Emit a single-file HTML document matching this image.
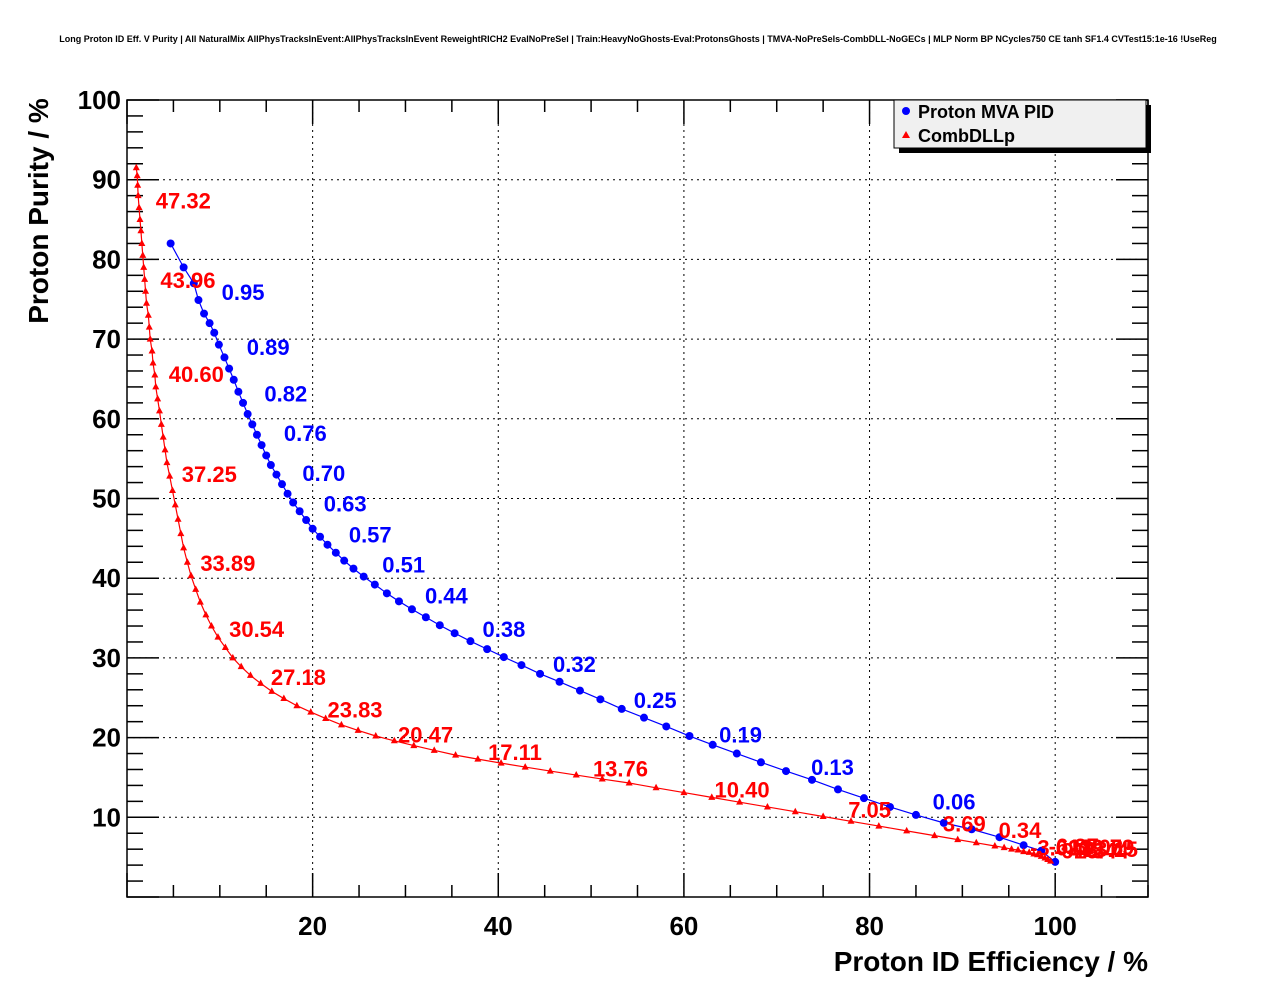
<!DOCTYPE html>
<html><head><meta charset="utf-8"><style>
body{margin:0;background:#fff;}
svg text{font-family:"Liberation Sans",sans-serif;font-weight:bold;}
</style></head><body>
<svg id="c" width="1276" height="996" xmlns="http://www.w3.org/2000/svg">
<text x="638" y="42" font-size="9" text-anchor="middle">Long Proton ID Eff. V Purity | All NaturalMix AllPhysTracksInEvent:AllPhysTracksInEvent ReweightRICH2 EvalNoPreSel | Train:HeavyNoGhosts-Eval:ProtonsGhosts | TMVA-NoPreSels-CombDLL-NoGECs | MLP Norm BP NCycles750 CE tanh SF1.4 CVTest15:1e-16 !UseReg</text>
<g id="grid"></g><g id="axes"></g><g id="series"></g>
<text x="1148" y="971" font-size="28" text-anchor="end">Proton ID Efficiency / %</text>
<text transform="translate(48,211) rotate(-90)" font-size="28" text-anchor="middle">Proton Purity / %</text>
<g>
<rect x="899" y="105" width="252" height="48" fill="#000"/>
<rect x="894" y="100" width="252" height="48" fill="#f0f0f0" stroke="#000" stroke-width="1"/>
<circle cx="906" cy="111" r="4" fill="#0000ff"/>
<text x="918" y="118" font-size="18">Proton MVA PID</text>
<polygon points="906,131 910,138 902,138" fill="#ff0000"/>
<text x="918" y="142" font-size="18">CombDLLp</text>
</g>
</svg>
<script>
const xTicks=[20,40,60,80,100];
const yTicks=[10,20,30,40,50,60,70,80,90,100];
const mvaX=[4.7,6.1,7.2,7.7,8.3,8.9,9.4,9.9,10.5,11.0,11.5,12.0,12.5,13.0,13.5,14.0,14.5,15.0,15.5,16.1,16.7,17.3,17.9,18.6,19.3,20.0,20.8,21.6,22.5,23.4,24.4,25.5,26.7,28.0,29.3,30.7,32.2,33.7,35.3,37.0,38.8,40.6,42.5,44.5,46.6,48.8,51.0,53.3,55.7,58.1,60.6,63.1,65.7,68.3,71.0,73.8,76.6,79.4,82.2,85.0,88.0,91.0,94.0,96.6,98.5,100.0];
const mvaY=[82.0,79.0,77.0,74.9,73.2,72.0,70.8,69.3,67.7,66.3,64.9,63.4,62.0,60.6,59.3,58.0,56.7,55.4,54.2,53.0,51.8,50.6,49.5,48.4,47.3,46.2,45.2,44.2,43.2,42.2,41.2,40.2,39.2,38.1,37.1,36.1,35.1,34.1,33.1,32.1,31.1,30.1,29.1,28.0,27.0,25.9,24.8,23.6,22.5,21.4,20.2,19.1,18.0,16.9,15.8,14.7,13.5,12.4,11.3,10.3,9.3,8.5,7.5,6.5,5.8,4.4];
const dllX=[1.0,1.1,1.15,1.2,1.3,1.4,1.5,1.6,1.7,1.8,1.9,2.0,2.1,2.3,2.4,2.5,2.7,2.8,3.0,3.1,3.3,3.5,3.7,3.9,4.1,4.3,4.6,4.9,5.2,5.5,5.8,6.1,6.5,6.9,7.4,7.9,8.5,9.1,9.8,10.6,11.4,12.3,13.3,14.4,15.6,16.9,18.3,19.8,21.4,23.1,24.9,26.8,28.8,30.9,33.1,35.4,37.8,40.3,42.9,45.6,48.4,51.2,54.1,57.0,60.0,63.0,66.0,69.0,72.0,75.0,78.0,81.0,84.0,87.0,89.5,91.5,93.5,94.5,95.3,96.0,96.6,97.2,97.7,98.1,98.5,98.9,99.2,99.5];
const dllY=[91.5,90.5,89.3,88.0,86.5,85.0,83.6,82.0,80.5,79.0,77.5,76.0,74.5,73.0,71.5,70.0,68.5,67.0,65.5,64.0,62.5,61.0,59.3,57.7,56.1,54.5,52.8,51.0,49.2,47.4,45.6,43.8,42.0,40.3,38.6,37.0,35.4,34.0,32.6,31.3,30.0,28.9,27.8,26.8,25.8,24.9,24.0,23.2,22.4,21.6,20.9,20.2,19.6,19.0,18.4,17.8,17.3,16.8,16.3,15.8,15.3,14.8,14.3,13.7,13.1,12.5,11.9,11.3,10.7,10.1,9.5,8.9,8.3,7.7,7.2,6.8,6.4,6.2,6.0,5.9,5.7,5.6,5.4,5.3,5.1,4.9,4.7,4.5];
const mvaLabels=["0.95","0.89","0.82","0.76","0.70","0.63","0.57","0.51","0.44","0.38","0.32","0.25","0.19","0.13","0.06"];
const mvaLabX=[10.2,12.9,14.8,16.9,18.9,21.2,23.9,27.5,32.1,38.3,45.9,54.6,63.8,73.7,86.8];
const mvaLabY=[74.9,68.0,62.2,57.2,52.2,48.4,44.5,40.7,36.8,32.6,28.2,23.7,19.4,15.3,11.0];
const dllLabels=["47.32","43.96","40.60","37.25","33.89","30.54","27.18","23.83","20.47","17.11","13.76","10.40","7.05","3.69","0.34","-3.02","-6.37","-9.73","-13.08","-16.44","-19.79","-23.15"];
const dllLabX=[3.1,3.6,4.5,5.9,7.9,11.0,15.5,21.6,29.2,38.9,50.2,63.3,77.7,87.9,93.9,97.3,99.3,99.9,100.6,101.2,101.8,102.2];
const dllLabY=[86.4,76.4,64.6,52.1,40.9,32.6,26.6,22.5,19.4,17.2,15.1,12.5,10.0,8.2,7.4,5.2,5.4,4.8,5.3,4.8,5.3,5.0];

const L=127,R=1148,T=100,B=897,XMAX=110,YMAX=100;
const sx=v=>L+(R-L)*v/XMAX, sy=v=>B-(B-T)*v/YMAX;
const NS="http://www.w3.org/2000/svg";
function mk(tag,parent,attrs){const e=document.createElementNS(NS,tag);for(const k in attrs)e.setAttribute(k,attrs[k]);parent.appendChild(e);return e;}
const grid=document.getElementById('grid'),axes=document.getElementById('axes'),ser=document.getElementById('series');
xTicks.forEach(v=>{const l=mk('line',grid,{x1:sx(v),x2:sx(v),y1:T,y2:B,stroke:'#000','stroke-dasharray':'2,4','stroke-width':1});

});
yTicks.forEach(v=>{if(v>=100)return;const l=mk('line',grid,{x1:L,x2:R,y1:sy(v),y2:sy(v),stroke:'#000','stroke-dasharray':'2,4','stroke-width':1});

});
const fr=mk('rect',axes,{x:L,y:T,width:R-L,height:B-T,fill:'none',stroke:'#000','stroke-width':1.5});


for(let v=0;v<=XMAX;v+=5){const len=(v%20===0)?24:12;
mk('line',axes,{x1:sx(v),x2:sx(v),y1:B,y2:B-len,stroke:'#000','stroke-width':1.5});
mk('line',axes,{x1:sx(v),x2:sx(v),y1:T,y2:T+len,stroke:'#000','stroke-width':1.5});}
for(let v=0;v<=YMAX;v+=2){const len=(v%10===0)?32:16;
mk('line',axes,{x1:L,x2:L+len,y1:sy(v),y2:sy(v),stroke:'#000','stroke-width':1.5});
mk('line',axes,{x1:R,x2:R-len,y1:sy(v),y2:sy(v),stroke:'#000','stroke-width':1.5});}
xTicks.forEach(v=>{const t=mk('text',axes,{x:sx(v),y:935,'font-size':26,'text-anchor':'middle'});t.textContent=v;

});
yTicks.forEach(v=>{const t=mk('text',axes,{x:121,y:sy(v)+9,'font-size':26,'text-anchor':'end'});t.textContent=v;

});
function line(xs,ys,col,name){const p=mk('polyline',ser,{points:xs.map((x,i)=>sx(x)+','+sy(ys[i])).join(' '),fill:'none',stroke:col,'stroke-width':1.2});

}
line(mvaX,mvaY,'#0000ff','mva-line');
line(dllX,dllY,'#ff0000','dll-line');
mvaX.forEach((x,i)=>{const c=mk('circle',ser,{cx:sx(x),cy:sy(mvaY[i]),r:4,fill:'#0000ff'});

});
dllX.forEach((x,i)=>{const X=sx(x),Y=sy(dllY[i]);const p=mk('polygon',ser,{points:`${X},${Y-4} ${X+3.5},${Y+2.5} ${X-3.5},${Y+2.5}`,fill:'#ff0000'});

});
mvaLabels.forEach((s,i)=>{const t=mk('text',ser,{x:sx(mvaLabX[i]),y:sy(mvaLabY[i]),'font-size':22,fill:'#0000ff'});t.textContent=s;

});
dllLabels.forEach((s,i)=>{const t=mk('text',ser,{x:sx(dllLabX[i]),y:sy(dllLabY[i]),'font-size':22,fill:'#ff0000'});t.textContent=s;

});
</script>
</body></html>
